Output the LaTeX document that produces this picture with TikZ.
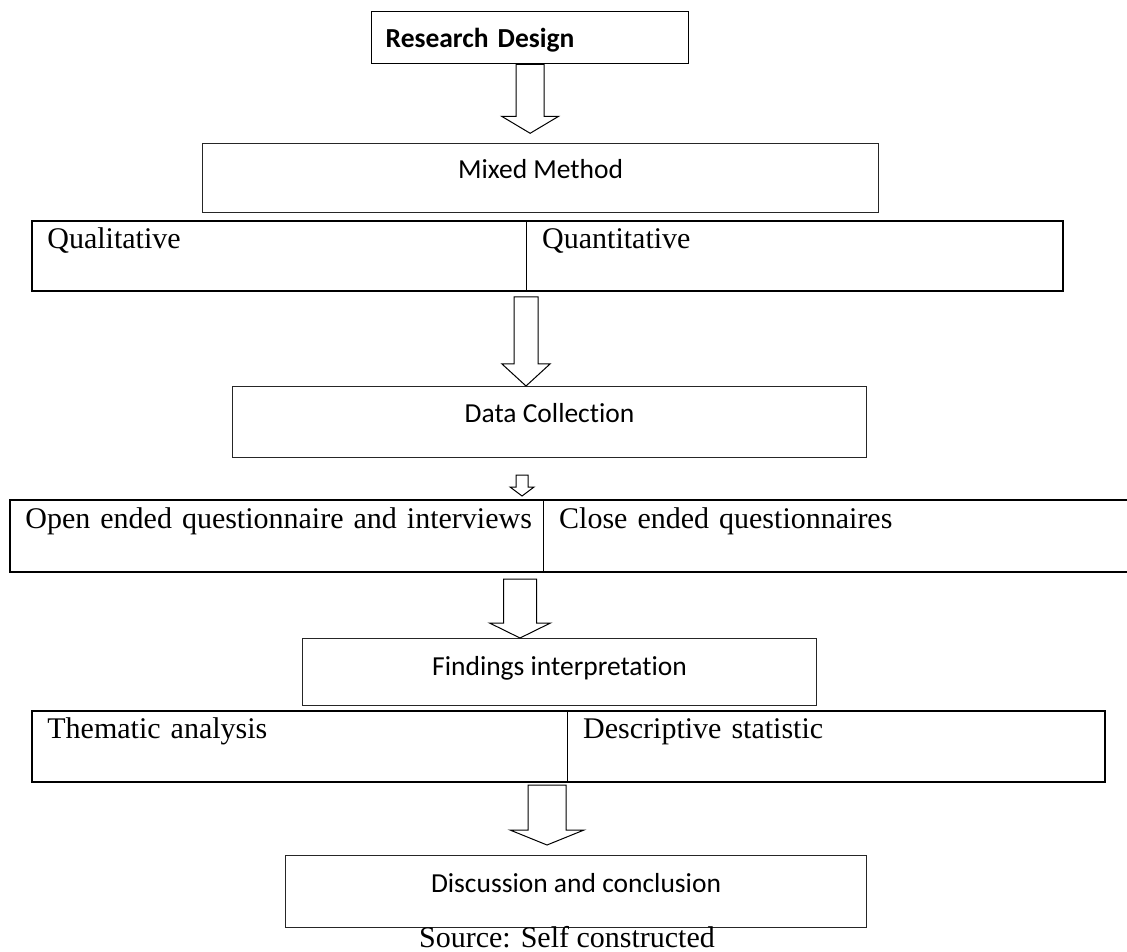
\documentclass[tikz,border=0pt]{standalone}
\usepackage{fontspec}
\setmainfont{Liberation Serif}
\newfontfamily\boxfont[Ligatures=NoCommon]{Carlito}
\usepackage{tikz}
\usetikzlibrary{calc}

\tikzset{
  box/.style={draw=black!85, line width=0.55pt, anchor=north west, inner xsep=0pt, inner ysep=0pt,
    font=\boxfont\fontsize{13.75}{16}\selectfont},
  cell/.style={anchor=north west, inner xsep=7.5pt, inner ysep=0pt, align=left,
    font=\fontsize{15}{18}\selectfont},
  rowline/.style={line width=0.9pt},
  split/.style={line width=0.6pt},
  hollow/.style={draw, fill=white, line width=0.5pt},
}
\newcommand{\blockarrow}[5]{%
  \draw[hollow] ($(#1)+(-#3,0)$) -- ($(#2)+(-#3,-#5)$) -- ($(#2)+(-#4,-#5)$) -- (#2)
    -- ($(#2)+(#4,-#5)$) -- ($(#2)+(#3,-#5)$) -- ($(#1)+(#3,0)$) -- cycle;}

\begin{document}
\begin{tikzpicture}[x=0.5pt, y=-0.5pt]
        \useasboundingbox (0,0) rectangle (1127,951);
        \node[box, draw=black, line width=0.65pt, inner xsep=7pt, text width=144.5pt, align=left,
          text height=18pt, text depth=8pt, font=\boxfont\bfseries\fontsize{13.75}{16}\selectfont]
          (rd) at (371,11) {Research Design};
        \node[box, minimum width=338pt, text height=17.5pt, text depth=17pt] (mm) at (202,143) {Mixed Method};
        \node[cell, text width=232pt, text height=13.5pt, text depth=21pt] (qual) at (32,221) {\mbox{Qualitative}};
        \node[cell, text width=252.5pt, text height=13.5pt, text depth=21pt] (quant) at (qual.north east) {\mbox{Quantitative}};
        \node[box, minimum width=317pt, text height=18pt, text depth=17.5pt] (dc) at (232,386) {Data Collection};
        \node[cell, text width=251.5pt, text height=14pt, text depth=21.5pt] (open) at (10,500) {\mbox{Open ended questionnaire and interviews}};
        \node[cell, text width=283.5pt, text height=14pt, text depth=21.5pt] (close) at (open.north east) {\mbox{Close ended questionnaires}};
        \node[box, minimum width=257pt, text height=18.5pt, text depth=15pt] (fi) at (302,638) {Findings interpretation};
        \node[cell, text width=252.5pt, text height=13.5pt, text depth=21.5pt] (them) at (32,711) {\mbox{Thematic analysis}};
        \node[cell, text width=253pt, text height=13.5pt, text depth=21.5pt] (desc) at (them.north east) {\mbox{Descriptive statistic}};
        \node[box, minimum width=290.5pt, text height=18.5pt, text depth=17.5pt] (dis) at (285,855) {Discussion and conclusion};
        \node[anchor=base, font=\fontsize{15}{18}\selectfont] (src) at (567,947) {Source: Self constructed};

        \draw[rowline] (qual.north west) rectangle (quant.south east);
        \draw[split, line width=0.35pt] (qual.north east) -- (qual.south east);
        \draw[rowline] (open.north west) rectangle (close.south east);
        \draw[split] (open.north east) -- (open.south east);
        \draw[rowline] (them.north west) rectangle (desc.south east);
        \draw[split] (them.north east) -- (them.south east);

        \coordinate (t1) at ($(rd.south)+(0,69)$);
        \coordinate (b2) at (526,297);
        \coordinate (t2) at (b2 |- dc.north);
        \coordinate (b3) at (522,475);
        \coordinate (t3) at (522,496);
        \coordinate (b4) at (520,579);
        \coordinate (t4) at (b4 |- fi.north);
        \coordinate (b5) at (547,785);
        \coordinate (t5) at (547,845);
        \blockarrow{rd.south}{t1}{14}{28.5}{17}
        \blockarrow{b2}{t2}{12}{24}{22}
        \blockarrow{b3}{t3}{6}{12}{9}
        \blockarrow{b4}{t4}{16.5}{30.5}{15}
        \blockarrow{b5}{t5}{19}{37}{15}
\end{tikzpicture}
\end{document}
